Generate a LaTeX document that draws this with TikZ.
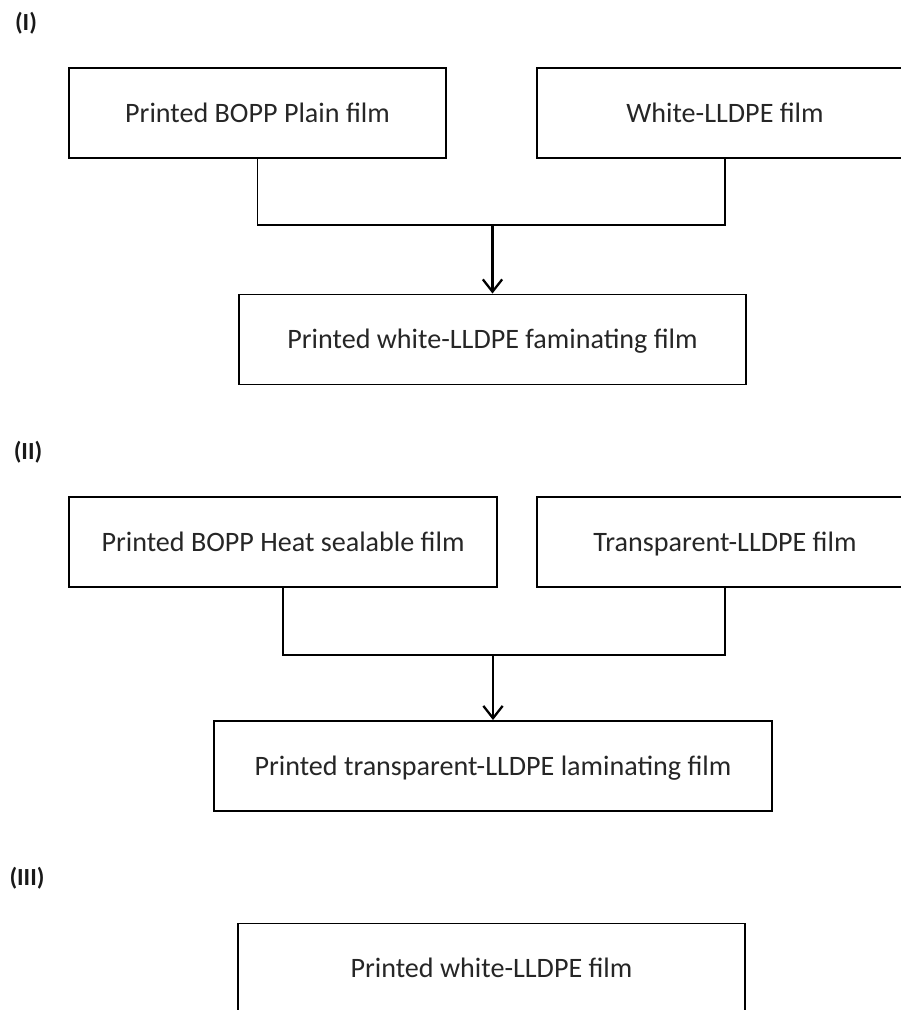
\documentclass[tikz,border=0pt]{standalone}
\usepackage{fontspec}
\setmainfont{Carlito}
\usetikzlibrary{arrows.meta}

\tikzset{
  film/.style={draw,line width=1.1pt,minimum height=90*0.02cm,minimum width=#1*0.02cm,inner sep=0pt,text height=10.5pt,text depth=0pt,font=\fontsize{16}{19}\selectfont,text=black!85},
  part/.style={font=\fontsize{14}{16}\selectfont\bfseries,text=black!90},
  link/.style={line width=1.1pt},
  tip/.style={line width=1.3pt,-{Straight Barb[length=7pt,width=11pt]}},
}

\begin{document}
\begin{tikzpicture}[x=0.02cm,y=-0.02cm]
           \clip (0,0) rectangle (901,1010);
           \fill[white] (0,0) rectangle (901,1010);

           % (I)
           \node[part] (P1) at (26,23) {(I)};
           \node[film=377] (A1) at (257.5,113) {Printed BOPP Plain film};
           \node[film=376] (B1) at (725,113) {White-LLDPE film};
           \node[film=507] (C1) at (492.5,339.5) {Printed white-LLDPE faminating film};
           \coordinate (J1) at (492.5,225);

           \draw[link] (A1.south) |- (J1) -| (B1.south);
           \draw[tip] (J1) -- (C1.north);

           % (II)
           \node[part] (P2) at (28,452) {(II)};
           \node[film=428] (A2) at (283,542) {Printed BOPP Heat sealable film};
           \node[film=376] (B2) at (725,542) {Transparent-LLDPE film};
           \node[film=558] (C2) at (493,766) {Printed transparent-LLDPE laminating film};
           \coordinate (J2) at (493,655);

           \draw[link] (A2.south) |- (J2) -| (B2.south);
           \draw[tip] (J2) -- (C2.north);

           % (III)
           \node[part] (P3) at (27,878) {(III)};
           \node[film=507] (C3) at (491.5,968.5) {Printed white-LLDPE film};
         \end{tikzpicture}
\end{document}
